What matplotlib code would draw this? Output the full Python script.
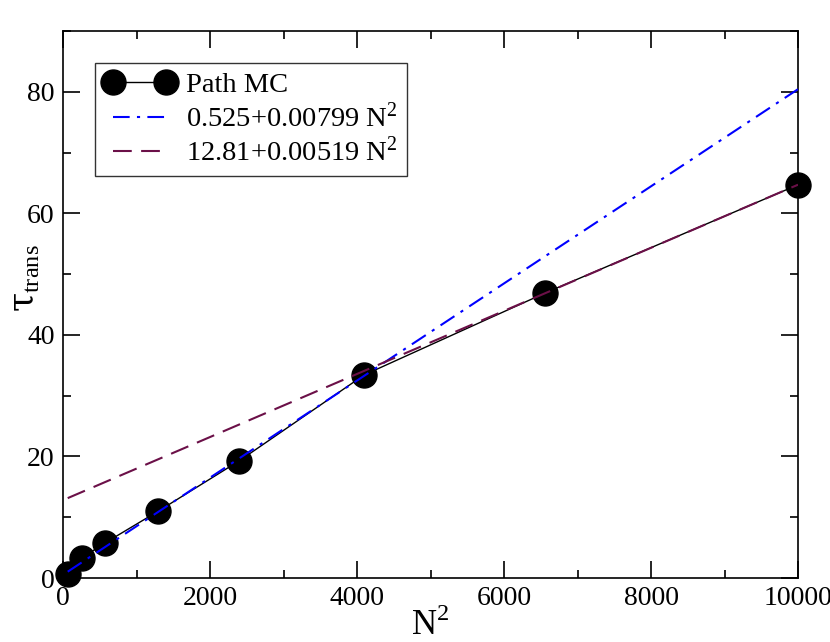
import numpy as np
import matplotlib
matplotlib.use("Agg")
import matplotlib.pyplot as plt
from matplotlib.ticker import MultipleLocator

plt.rcParams['font.family'] = ['Liberation Serif', 'DejaVu Serif']
plt.rcParams['mathtext.fontset'] = 'custom'
plt.rcParams['mathtext.rm'] = 'Liberation Serif'
plt.rcParams['mathtext.it'] = 'DejaVu Serif'

# path MC data
n_sq = [64, 256, 576, 1296, 2401, 4096, 6561, 10000]
tau = [0.6, 3.3, 5.8, 11.0, 19.3, 33.4, 46.9, 64.7]

# linear fits
fit1_a, fit1_b = 0.525, 0.00799
fit2_a, fit2_b = 12.81, 0.00519
fit_x = [64, 10000]

fig = plt.figure(figsize=(8.3, 6.42), dpi=100)
ax = fig.add_axes([63/830, 1 - 578/642, 735/830, 547/642])

ax.plot(n_sq, tau, color='black', lw=1, marker='o', ms=18,
        mfc='black', mec='black', label='Path MC', zorder=3, clip_on=False)
fx = np.array(fit_x)
ax.plot(fx, fit1_a + fit1_b*fx, color='blue', lw=1.5, ls=(0, (8, 3.5, 1.5, 3.5)),
        label='0.525+0.00799 N$^2$', zorder=4)
ax.plot(fx, fit2_a + fit2_b*fx, color='#6b1048', lw=1.5, ls=(0, (9, 4.5)),
        label='12.81+0.00519 N$^2$', zorder=4)

ax.set_xlim(0, 10000)
ax.set_ylim(0, 90)
ax.xaxis.set_major_locator(MultipleLocator(2000))
ax.xaxis.set_minor_locator(MultipleLocator(1000))
ax.yaxis.set_major_locator(MultipleLocator(20))
ax.yaxis.set_minor_locator(MultipleLocator(10))
ax.tick_params(which='both', direction='in', top=True, right=True, labelsize=20, width=1.2)
ax.tick_params(which='major', length=12, pad=6)
ax.tick_params(which='minor', length=6)
for s in ax.spines.values():
    s.set_linewidth(1.2)

ax.set_xlabel('N$^2$', fontsize=25, labelpad=-2)
ax.set_ylabel(r'$\tau_{\mathrm{trans}}$', fontsize=25)
ax.yaxis.set_label_coords(-0.028, 0.548)

leg = ax.legend(loc='upper left', bbox_to_anchor=(0.0435, 0.9415), fontsize=20.5,
                frameon=True, fancybox=False, edgecolor='black', handlelength=2.45,
                numpoints=2, borderpad=0.33, labelspacing=0.15, handletextpad=0.4,
                borderaxespad=0)
leg.get_frame().set_linewidth(1)

fig.savefig('out.png', dpi=100)
